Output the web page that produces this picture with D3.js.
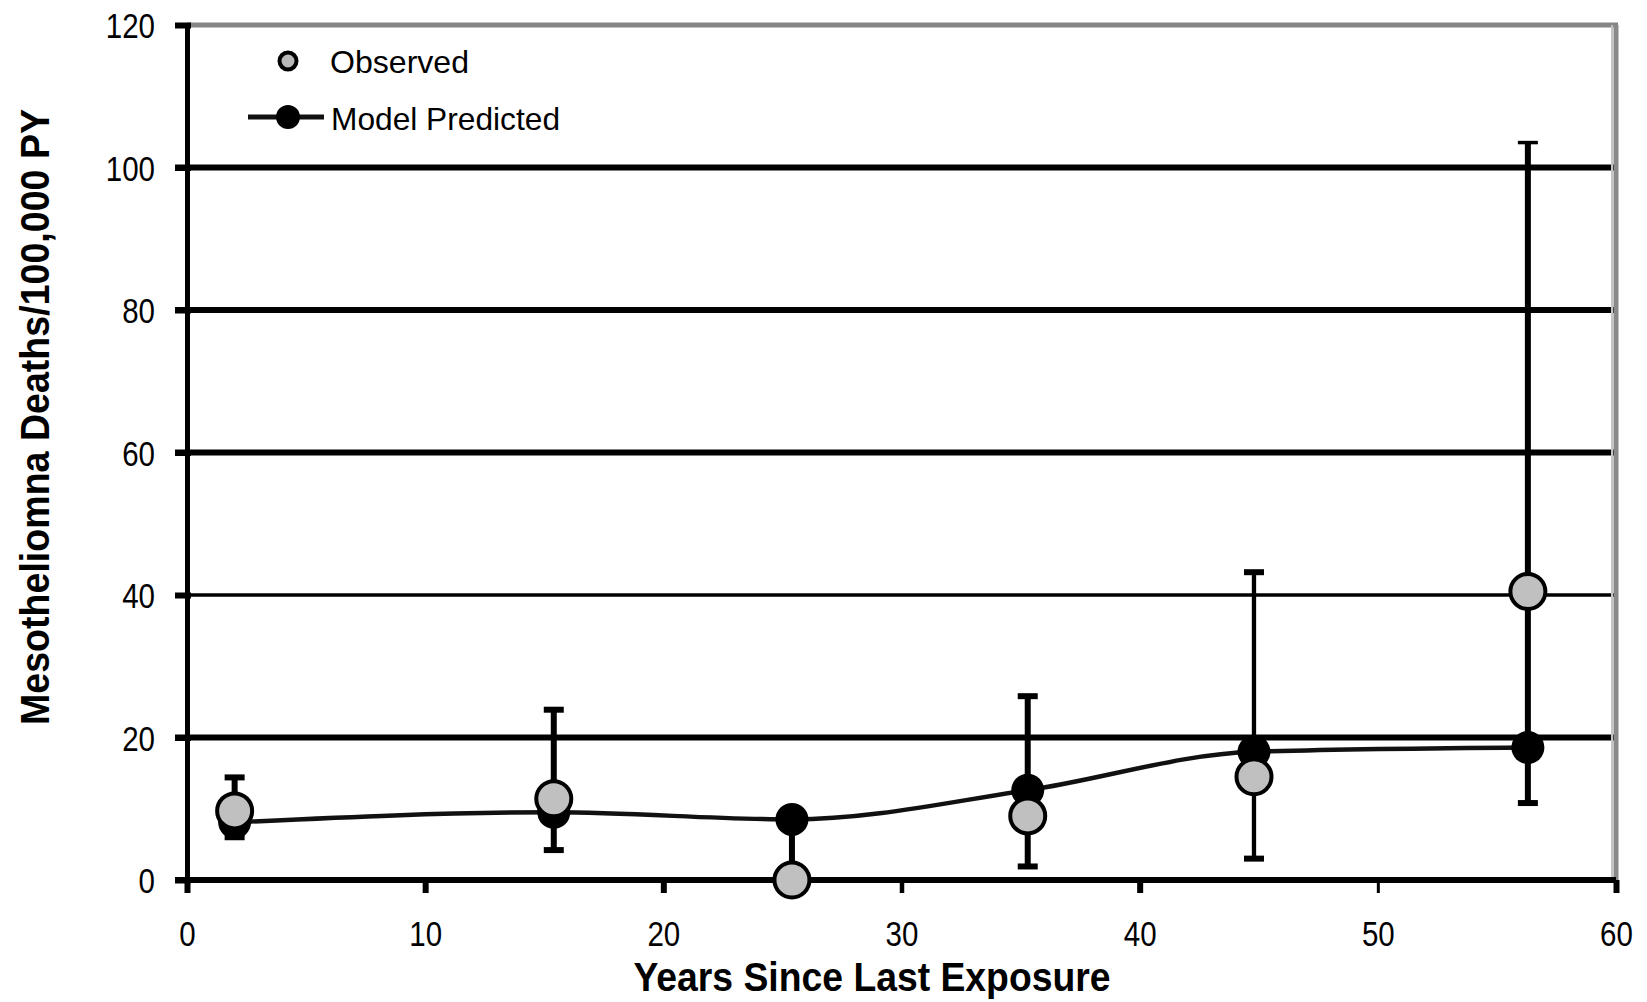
<!DOCTYPE html>
<html>
<head>
<meta charset="utf-8">
<script src="https://cdn.jsdelivr.net/npm/d3@7/dist/d3.min.js"></script>
<style>
  html, body { margin: 0; padding: 0; background: #fff; overflow: hidden; }
  svg { display: block; }
</style>
</head>
<body>
<svg id="chart" width="1647" height="1002"></svg>
<script>
// ---- data ----
const years     = [2.0, 15.4, 25.4, 35.3, 44.8, 56.3];
const observed  = [9.7, 11.4, 0.0, 9.0, 14.5, 40.5];
const predicted = [8.1, 9.5, 8.5, 12.6, 18.0, 18.6];
const ciLower   = [6.0, 4.2, 0.0, 1.9, 3.0, 10.8];
const ciUpper   = [14.4, 23.9, 8.5, 25.8, 43.2, 103.5];
const xTicks    = [0, 10, 20, 30, 40, 50, 60];
const yTicks    = [0, 20, 40, 60, 80, 100, 120];
const seriesNames = ["Observed", "Model Predicted"];
const xTitle = "Years Since Last Exposure";
const yTitle = "Mesotheliomna Deaths/100,000 PY";

// ---- layout ----
const svg = d3.select("#chart");
const mLeft = 187, mRight = 1616, mTop = 25, mBottom = 880;
const x = d3.scaleLinear().domain([0, 60]).range([mLeft, mRight]);
const y = d3.scaleLinear().domain([0, 120]).range([mBottom, mTop]);

const regular = "'Liberation Sans',Arial,sans-serif";
const digitW = 16.4;   // narrow-looking digits

const pts = years.map((yr, i) => ({
  x: yr, obs: observed[i], pred: predicted[i], lo: ciLower[i], hi: ciUpper[i], i
}));

// ---- gridlines ----
const gridW = v => (v === 40 ? 3.4 : 6);
svg.append("g").selectAll("line")
  .data(yTicks.filter(v => v > 0 && v < 120))
  .join("line")
  .attr("x1", mLeft - 12).attr("x2", mRight - 2)
  .attr("y1", d => y(d)).attr("y2", d => y(d))
  .attr("stroke", "#000").attr("stroke-width", gridW);

// top and right frame (grey)
svg.append("line")
  .attr("x1", mLeft).attr("x2", mRight + 2)
  .attr("y1", y(120)).attr("y2", y(120))
  .attr("stroke", "#858585").attr("stroke-width", 5);
svg.append("line")
  .attr("x1", mRight).attr("x2", mRight)
  .attr("y1", y(120)).attr("y2", mBottom)
  .attr("stroke", "#8a8a8a").attr("stroke-width", 5);
svg.append("line")
  .attr("x1", mRight - 4).attr("x2", mRight - 4)
  .attr("y1", y(120)).attr("y2", mBottom)
  .attr("stroke", "#c4c4c4").attr("stroke-width", 2);

// ---- axes ----
const yAxis = d3.axisLeft(y).tickValues(yTicks).tickSize(12).tickPadding(20)
  .tickFormat(d3.format("d"));
const gy = svg.append("g").attr("transform", `translate(${mLeft},0)`).call(yAxis);
gy.select(".domain").attr("stroke", "#000").attr("stroke-width", 5);
gy.selectAll(".tick line").attr("stroke", "#000").attr("stroke-width", 6)
  .attr("x2", 4).attr("x1", -12);
gy.selectAll(".tick text").attr("font-family", regular).attr("font-size", 35)
  .attr("fill", "#000").attr("dy", "0.36em")
  .attr("textLength", d => String(d).length * digitW).attr("lengthAdjust", "spacingAndGlyphs");

const xAxis = d3.axisBottom(x).tickValues(xTicks).tickSize(13).tickPadding(28)
  .tickFormat(d3.format("d"));
const gx = svg.append("g").attr("transform", `translate(0,${mBottom})`).call(xAxis);
gx.select(".domain").attr("stroke", "#000").attr("stroke-width", 6)
  .attr("d", `M${mLeft - 12},0H${mRight}`);
gx.selectAll(".tick line").attr("stroke", "#000")
  .attr("stroke-width", d => (d === 50 ? 3 : d === 30 ? 4.5 : 6));
gx.selectAll(".tick text").attr("font-family", regular).attr("font-size", 35)
  .attr("fill", "#000").attr("dy", "0.71em")
  .attr("textLength", d => String(d).length * digitW).attr("lengthAdjust", "spacingAndGlyphs");

// ---- error bars (around observed) ----
const barW = i => (i === 4 ? 4.3 : 6);
const eb = svg.append("g");
eb.selectAll("line.v").data(pts).join("line").attr("class", "v")
  .attr("x1", d => x(d.x)).attr("x2", d => x(d.x))
  .attr("y1", d => y(d.lo)).attr("y2", d => y(d.hi))
  .attr("stroke", "#000").attr("stroke-width", d => barW(d.i));
eb.selectAll("line.ct").data(pts.filter(d => d.hi > d.pred + 1)).join("line").attr("class", "ct")
  .attr("x1", d => x(d.x) - 10).attr("x2", d => x(d.x) + 10)
  .attr("y1", d => y(d.hi)).attr("y2", d => y(d.hi))
  .attr("stroke", "#000").attr("stroke-width", d => (d.i === 5 ? 3.5 : 6));
eb.selectAll("line.cb").data(pts.filter(d => d.lo > 0.5)).join("line").attr("class", "cb")
  .attr("x1", d => x(d.x) - 10).attr("x2", d => x(d.x) + 10)
  .attr("y1", d => y(d.lo)).attr("y2", d => y(d.lo))
  .attr("stroke", "#000").attr("stroke-width", 6);

// ---- model predicted line ----
const line = d3.line().x(d => x(d.x)).y(d => y(d.pred)).curve(d3.curveMonotoneX);
svg.append("path").datum(pts).attr("d", line)
  .attr("fill", "none").attr("stroke", "#111").attr("stroke-width", 4.5);

// predicted markers
svg.append("g").selectAll("circle").data(pts).join("circle")
  .attr("cx", d => x(d.x)).attr("cy", d => y(d.pred)).attr("r", 16.5)
  .attr("fill", "#000");

// observed markers
svg.append("g").selectAll("circle").data(pts).join("circle")
  .attr("cx", d => x(d.x)).attr("cy", d => y(d.obs)).attr("r", 17.5)
  .attr("fill", "#c0c0c0").attr("stroke", "#000").attr("stroke-width", 4);

// ---- legend ----
const lg = svg.append("g");
lg.append("circle").attr("cx", 288).attr("cy", 61).attr("r", 8.5)
  .attr("fill", "#b8b8b8").attr("stroke", "#000").attr("stroke-width", 4);
lg.append("text").attr("x", 330).attr("y", 73).text(seriesNames[0])
  .attr("font-family", regular).attr("font-size", 32).attr("fill", "#000")
  .attr("textLength", 139).attr("lengthAdjust", "spacingAndGlyphs");
lg.append("line").attr("x1", 248).attr("x2", 324).attr("y1", 117).attr("y2", 117)
  .attr("stroke", "#111").attr("stroke-width", 5);
lg.append("circle").attr("cx", 288).attr("cy", 117).attr("r", 12).attr("fill", "#000");
lg.append("text").attr("x", 331).attr("y", 130).text(seriesNames[1])
  .attr("font-family", regular).attr("font-size", 32).attr("fill", "#000")
  .attr("textLength", 229).attr("lengthAdjust", "spacingAndGlyphs");

// ---- axis titles ----
svg.append("text").attr("x", 872).attr("y", 991).attr("text-anchor", "middle")
  .attr("font-family", regular).attr("font-weight", "bold").attr("font-size", 41)
  .attr("fill", "#000").attr("textLength", 477).attr("lengthAdjust", "spacingAndGlyphs")
  .text(xTitle);
svg.append("text").attr("transform", "translate(49,417) rotate(-90)")
  .attr("text-anchor", "middle")
  .attr("font-family", regular).attr("font-weight", "bold").attr("font-size", 41)
  .attr("fill", "#000").attr("textLength", 616).attr("lengthAdjust", "spacingAndGlyphs")
  .text(yTitle);
</script>
</body>
</html>
